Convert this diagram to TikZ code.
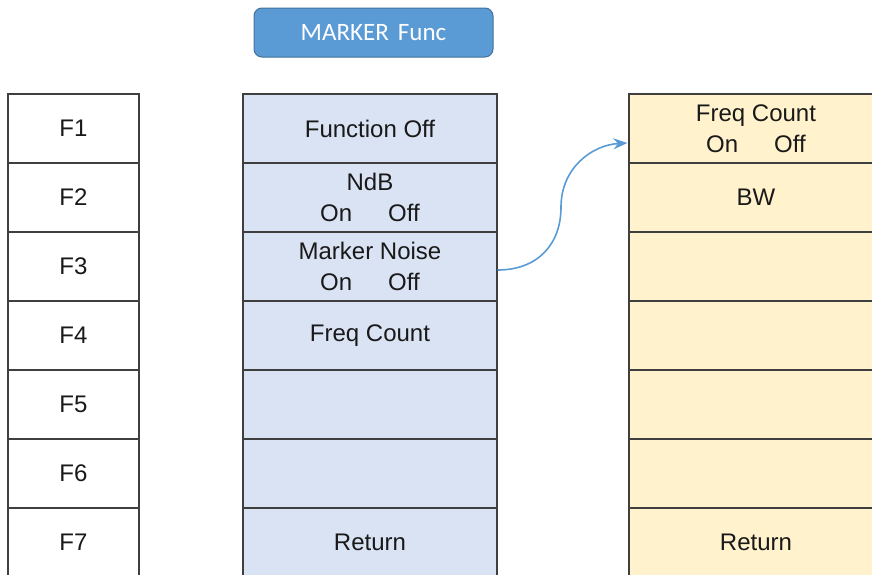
\documentclass[tikz,border=0pt]{standalone}
\usepackage{fontspec}
\setmainfont{Liberation Sans}
\newfontfamily\btnfont{Carlito}
\usetikzlibrary{arrows.meta,calc}
\definecolor{lineg}{HTML}{3F3F3F}
\definecolor{midfill}{HTML}{DAE3F3}
\definecolor{rightfill}{HTML}{FFF2CC}
\definecolor{btnfill}{HTML}{5B9BD5}
\definecolor{btnline}{HTML}{41719C}
\definecolor{arrowc}{HTML}{5B9BD5}
\newcommand{\onoff}{On\hspace{36pt}Off}
\begin{document}
\begin{tikzpicture}[x=1pt,y=-1pt,
  cell/.style={draw=lineg,line width=1.2pt,rectangle,inner sep=0pt,minimum height=69pt,
    align=center,font=\fontsize{24}{31}\selectfont,text=black!90},
  leftcell/.style={cell,minimum width=131pt,fill=white},
  midcell/.style={cell,minimum width=254pt,fill=midfill},
  rightcell/.style={cell,minimum width=254pt,fill=rightfill},
  btn/.style={draw=btnline,line width=1pt,fill=btnfill,rounded corners=8pt,
    minimum width=239pt,minimum height=49pt,inner sep=0pt,text=white,
    font=\btnfont\fontsize{25}{28}\selectfont},
  link/.style={draw=arrowc,line width=1.6pt,-{Stealth[length=14pt,width=11pt]}}
]
\useasboundingbox (0,0) rectangle (872,574);
\node[btn] (btn) at (373.5,32.5) {MARKER\hspace{9pt}Func};
% left column
\foreach \i/\t in {1/F1,2/F2,3/F3,4/F4,5/F5,6/F6,7/F7}{
  \node[leftcell] (l\i) at (73.5,{94+69*(\i-1)+34.5}) {\t};
}
% middle column
\node[midcell] (m1) at (370,128.5) {Function Off};
\node[midcell] (m2) at (370,197.5) {NdB\\\onoff};
\node[midcell] (m3) at (370,266.5) {Marker Noise\\\onoff};
\node[midcell] (m4) at (370,335.5) {Freq Count};
\node[midcell] (m5) at (370,404.5) {};
\node[midcell] (m6) at (370,473.5) {};
\node[midcell] (m7) at (370,542.5) {Return};
% right column
\node[rightcell] (r1) at (756,128.5) {Freq Count\\\onoff};
\node[rightcell] (r2) at (756,197.5) {BW};
\node[rightcell] (r3) at (756,266.5) {};
\node[rightcell] (r4) at (756,335.5) {};
\node[rightcell] (r5) at (756,404.5) {};
\node[rightcell] (r6) at (756,473.5) {};
\node[rightcell] (r7) at (756,542.5) {Return};
% connector
\coordinate (s) at ($(m3.east)+(0,3.5)$);
\coordinate (e) at ($(r1.west)+(-1,14.5)$);
\coordinate (mid) at (561,207);
\draw[link] (s) .. controls (537,270) and (561,245) .. (mid)
  .. controls (561,168) and (592,145) .. (e);
\end{tikzpicture}
\end{document}
